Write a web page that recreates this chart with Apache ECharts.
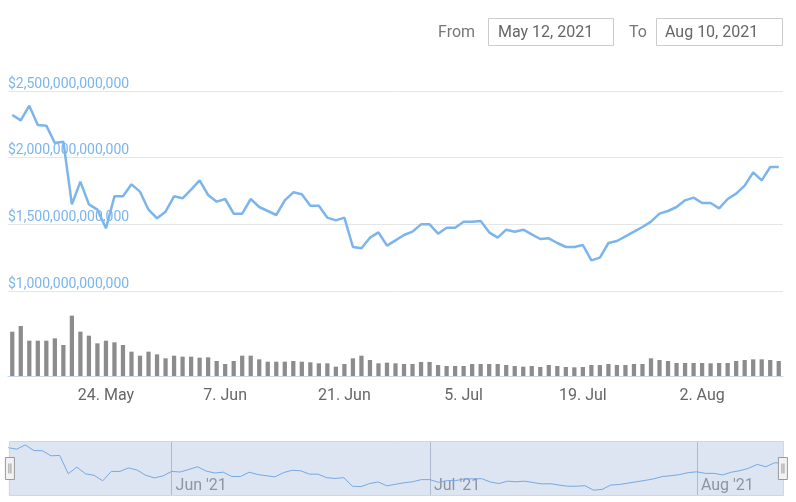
<!DOCTYPE html>
<html>
<head>
<meta charset="utf-8">
<script src="https://cdn.jsdelivr.net/npm/echarts@6/dist/echarts.min.js"></script>
<style>
  html, body { margin: 0; padding: 0; background: #fff; }
  #main { width: 796px; height: 502px; }
</style>
</head>
<body>
<div id="main"></div>
<script>
  // daily points, first one is 13 May 2021
  const startDay = Date.UTC(2021, 4, 13)
  const monthNames = ['Jan', 'Feb', 'Mar', 'Apr', 'May', 'Jun', 'Jul', 'Aug', 'Sep', 'Oct', 'Nov', 'Dec']

  // total market cap, trillions of USD
  const marketCap = [
    2.32, 2.28, 2.39, 2.245, 2.24, 2.11, 2.12, 1.65, 1.82, 1.65,
    1.61, 1.47, 1.71, 1.71, 1.80, 1.745, 1.61, 1.545, 1.595, 1.71,
    1.695, 1.76, 1.83, 1.72, 1.67, 1.69, 1.58, 1.58, 1.69, 1.63,
    1.60, 1.57, 1.68, 1.74, 1.725, 1.64, 1.64, 1.55, 1.53, 1.55,
    1.33, 1.32, 1.40, 1.44, 1.34, 1.38, 1.42, 1.445, 1.50, 1.50,
    1.43, 1.475, 1.475, 1.52, 1.52, 1.525, 1.44, 1.40, 1.46, 1.445,
    1.46, 1.425, 1.39, 1.395, 1.36, 1.33, 1.33, 1.345, 1.23, 1.25,
    1.36, 1.375, 1.41, 1.445, 1.48, 1.52, 1.58, 1.60, 1.63, 1.68,
    1.70, 1.66, 1.66, 1.62, 1.69, 1.73, 1.79, 1.89, 1.83, 1.93, 1.93
  ]

  // 24h volume, billions of USD
  const volume = [
    266, 300, 212, 212, 212, 226, 186, 362, 266, 242,
    196, 212, 202, 186, 146, 122, 146, 130, 106, 122,
    116, 116, 110, 112, 90, 72, 90, 122, 122, 100,
    86, 86, 86, 90, 86, 82, 76, 76, 56, 72,
    106, 122, 96, 76, 80, 76, 72, 72, 84, 84,
    66, 60, 60, 60, 72, 72, 72, 72, 66, 60,
    56, 60, 54, 66, 60, 54, 52, 54, 66, 66,
    72, 66, 66, 72, 72, 106, 96, 90, 78, 78,
    78, 78, 76, 78, 78, 90, 96, 100, 100, 96, 90
  ]

  const yTicks = [1, 1.5, 2, 2.5]
  const xTickLabels = ['24. May', '7. Jun', '21. Jun', '5. Jul', '19. Jul', '2. Aug']
  const navLabels = ["Jun '21", "Jul '21", "Aug '21"]
  const rangeFrom = 'May 12, 2021'
  const rangeTo = 'Aug 10, 2021'

  const days = marketCap.map((v, i) => {
    const d = new Date(startDay + i * 86400000)
    return d.getUTCDate() + '. ' + monthNames[d.getUTCMonth()]
  })
  const isTick = (idx, val) => xTickLabels.indexOf(val) >= 0
  const isMonthStart = (idx, val) => val.indexOf('1. ') === 0
  const navLabel = val => navLabels.find(l => l.indexOf(val.split(' ')[1]) === 0)

  const fontFamily = 'Roboto, sans-serif'
  const lineColor = '#7cb5ec'

  let chart = echarts.init(document.getElementById('main'))
  let option = {
    animation: false,
    textStyle: { fontFamily: fontFamily },
    graphic: [
      { type: 'text', left: 438, top: 25, style: { text: 'From', fill: '#777', font: '16px ' + fontFamily } },
      { type: 'rect', left: 488, top: 18, shape: { width: 125, height: 27 }, style: { fill: '#fff', stroke: '#ccc', lineWidth: 1 } },
      { type: 'text', left: 498, top: 25, style: { text: rangeFrom, fill: '#666', font: '16px ' + fontFamily } },
      { type: 'text', left: 629, top: 25, style: { text: 'To', fill: '#777', font: '16px ' + fontFamily } },
      { type: 'rect', left: 656, top: 18, shape: { width: 126, height: 27 }, style: { fill: '#fff', stroke: '#ccc', lineWidth: 1 } },
      { type: 'text', left: 665, top: 25, style: { text: rangeTo, fill: '#666', font: '16px ' + fontFamily } }
    ],
    grid: [
      { left: 8, right: 13, top: 91, height: 200 },
      { left: 8, right: 13, top: 300, height: 76 },
      { left: 8, right: 13, top: 441, height: 55, show: true, backgroundColor: '#fff', borderWidth: 0 }
    ],
    xAxis: [
      {
        gridIndex: 0,
        type: 'category',
        data: days,
        show: false
      },
      {
        gridIndex: 1,
        type: 'category',
        data: days,
        axisLine: { lineStyle: { color: '#ccd6eb' } },
        axisTick: { alignWithLabel: true, interval: isTick, length: 10, lineStyle: { color: '#ccd6eb' } },
        axisLabel: { interval: isTick, color: '#666', fontSize: 16, margin: 12 }
      },
      {
        gridIndex: 2,
        type: 'category',
        data: days,
        boundaryGap: false,
        axisLine: { show: false },
        axisTick: { show: false },
        splitLine: { show: true, interval: isMonthStart, lineStyle: { color: '#c3c9d4' } },
        axisLabel: {
          inside: true,
          interval: isMonthStart,
          formatter: navLabel,
          color: '#999',
          fontSize: 16,
          align: 'left',
          padding: [0, 0, 0, 4],
          margin: 2
        }
      }
    ],
    yAxis: [
      {
        gridIndex: 0,
        type: 'value',
        min: yTicks[0],
        max: yTicks[yTicks.length - 1],
        interval: 0.5,
        axisLine: { show: false },
        axisTick: { show: false },
        splitLine: { lineStyle: { color: '#e6e6e6' } },
        axisLabel: {
          inside: true,
          margin: 0,
          verticalAlign: 'bottom',
          color: lineColor,
          fontSize: 14,
          formatter: v => '$' + Math.round(v * 1e12).toLocaleString('en-US')
        }
      },
      { gridIndex: 1, type: 'value', min: 0, max: 456, show: false },
      { gridIndex: 2, type: 'value', min: 1.08, max: 2.49, show: false }
    ],
    dataZoom: [
      {
        type: 'slider',
        xAxisIndex: 2,
        start: 0,
        end: 100,
        left: 8,
        right: 13,
        top: 441,
        height: 55,
        showDetail: false,
        showDataShadow: false,
        brushSelect: false,
        backgroundColor: 'transparent',
        borderColor: '#cfd6e4',
        fillerColor: 'rgba(102,133,194,0.22)',
        handleIcon: 'path://M0,0 h9 v22 h-9 Z M3.5,6 v10 M5.5,6 v10',
        handleSize: '40%',
        handleStyle: { color: '#f2f2f2', borderColor: '#999', borderWidth: 1 },
        moveHandleSize: 0
      }
    ],
    series: [
      {
        name: 'Market Cap',
        type: 'line',
        xAxisIndex: 0,
        yAxisIndex: 0,
        data: marketCap,
        showSymbol: false,
        lineStyle: { color: lineColor, width: 2.5 },
        itemStyle: { color: lineColor }
      },
      {
        name: 'Volume',
        type: 'bar',
        xAxisIndex: 1,
        yAxisIndex: 1,
        data: volume,
        barWidth: '50%',
        itemStyle: { color: '#8c8c8c' }
      },
      {
        name: 'Navigator',
        type: 'line',
        xAxisIndex: 2,
        yAxisIndex: 2,
        data: marketCap,
        showSymbol: false,
        lineStyle: { color: lineColor, width: 1 }
      }
    ]
  }
  option && chart.setOption(option)
</script>
</body>
</html>
